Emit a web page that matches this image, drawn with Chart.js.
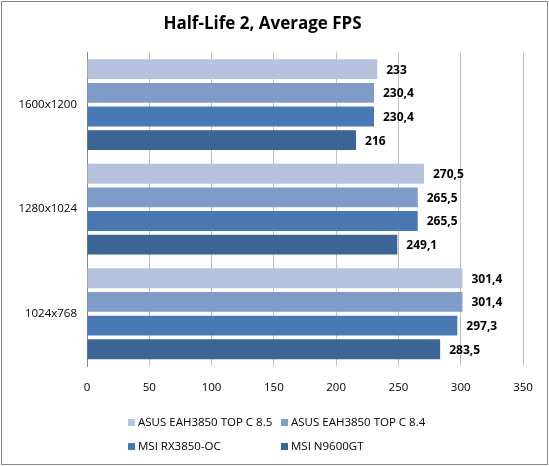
<!DOCTYPE html>
<html>
<head>
<meta charset="utf-8">
<script src="https://cdn.jsdelivr.net/npm/chart.js@4"></script>
<style>
  body { margin: 0; background: #fff; }
  #wrap { position: relative; width: 549px; height: 466px; }
  #legend { position: absolute; left: 0; top: 0; font-family: 'Open Sans', sans-serif; font-size: 11.5px; color: #000; }
  .item { position: absolute; white-space: nowrap; line-height: 14px; }
  .box { display: inline-block; width: 7px; height: 7px; margin-right: 3px; vertical-align: 0px; }
</style>
</head>
<body>
<div id="wrap">
  <canvas id="chart" width="549" height="466"></canvas>
  <div id="legend"></div>
</div>
<script>
var categories = ['1600x1200', '1280x1024', '1024x768']
var seriesNames = ['ASUS EAH3850 TOP C 8.5', 'ASUS EAH3850 TOP C 8.4', 'MSI RX3850-OC', 'MSI N9600GT']
var asus85 = [233, 270.5, 301.4]
var asus84 = [230.4, 265.5, 301.4]
var msiRx3850 = [230.4, 265.5, 297.3]
var msiN9600 = [216, 249.1, 283.5]
var xTicks = [0, 50, 100, 150, 200, 250, 300, 350]

var colors = ['#b6c3de', '#7f9bc8', '#4a78b2', '#3c6494']
var seriesData = [asus85, asus84, msiRx3850, msiN9600]

// border round the whole picture
var frame = {
  id: 'frame',
  beforeDraw: function (chart) {
    var c = chart.ctx
    c.save()
    c.fillStyle = '#fff'
    c.fillRect(0, 0, chart.width, chart.height)
    c.strokeStyle = '#868686'
    c.lineWidth = 1
    c.strokeRect(1.5, 1.5, 546, 463)
    c.restore()
  }
}

// numbers right of the bars
var valueLabels = {
  id: 'valueLabels',
  afterDatasetsDraw: function (chart) {
    var c = chart.ctx
    c.save()
    c.font = 'bold 12px "Open Sans"'
    c.fillStyle = '#000'
    c.textBaseline = 'middle'
    c.textAlign = 'left'
    chart.data.datasets.forEach(function (ds, i) {
      chart.getDatasetMeta(i).data.forEach(function (bar, j) {
        c.fillText(String(ds.data[j]).replace('.', ','), bar.x + 9, bar.y + 1)
      })
    })
    c.restore()
  }
}

var ctx = document.getElementById('chart').getContext('2d')

var chart = new Chart(ctx, {
  type: 'bar',
  data: {
    labels: categories,
    datasets: seriesNames.map(function (name, i) {
      return {
        label: name,
        data: seriesData[i],
        backgroundColor: colors[i],
        borderWidth: 0,
        barPercentage: 0.84,
        categoryPercentage: 0.905,
      }
    }),
  },
  options: {
    indexAxis: 'y',
    responsive: false,
    animation: false,
    devicePixelRatio: 1,
    layout: {
      padding: { left: 2, right: 26, top: 0, bottom: 60 },
    },
    plugins: {
      legend: { display: false },
      tooltip: { enabled: false },
      title: {
        display: true,
        text: 'Half-Life 2, Average FPS',
        color: '#000',
        font: { size: 17, weight: 'bold', family: 'Open Sans' },
        padding: { top: 14, bottom: 18 },
      },
    },
    scales: {
      x: {
        min: 0,
        max: 350,
        afterFit: function (scale) { scale.height = 40 },
        afterBuildTicks: function (scale) {
          scale.ticks = xTicks.map(function (v) { return { value: v } })
        },
        grid: {
          drawTicks: false,
          color: function (c) { return c.tick && c.tick.value === 0 ? '#868686' : '#c0c0c0' },
        },
        border: { display: false },
        ticks: {
          padding: 15,
          color: '#000',
          font: { size: 11.5, family: 'Open Sans' },
        },
      },
      y: {
        afterFit: function (scale) { scale.width = 85 },
        grid: { display: false, drawTicks: false },
        border: { display: true, color: '#868686' },
        ticks: {
          padding: 10,
          color: '#000',
          font: { size: 11.5, family: 'Open Sans' },
        },
      },
    },
  },
  plugins: [frame, valueLabels],
})

// legend in two columns
var legend = document.getElementById('legend')
var spots = [[128, 415], [281, 415], [128, 439], [281, 439]]
seriesNames.forEach(function (name, i) {
  var el = document.createElement('div')
  el.className = 'item'
  el.style.left = spots[i][0] + 'px'
  el.style.top = spots[i][1] + 'px'
  el.innerHTML = '<span class="box" style="background:' + colors[i] + '"></span>' + name
  legend.appendChild(el)
})
</script>
</body>
</html>
